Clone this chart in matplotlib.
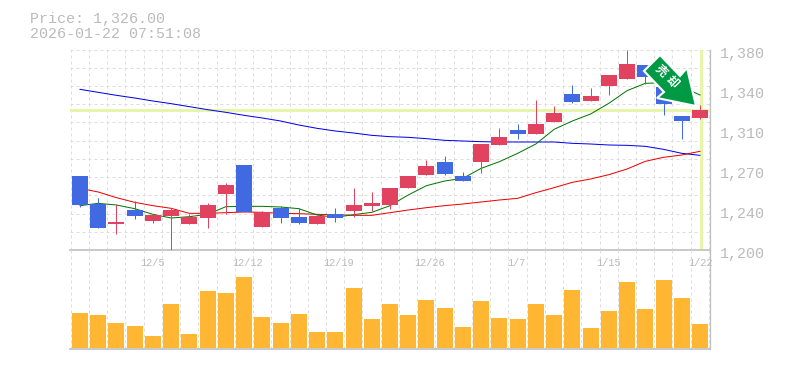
import matplotlib
matplotlib.use('Agg')
import matplotlib.pyplot as plt
from matplotlib.patches import Polygon
import numpy as np

W, H = 785, 370
PLOT_FONT = ['Liberation Mono', 'DejaVu Sans Mono']
CJK_FONT = ['Noto Sans CJK JP', 'DejaVu Sans']

opens = [1266.6, 1241.4, 1223.4, 1236.0, 1226.1, 1230.6, 1223.4, 1228.8, 1250.4, 1276.5,
         1220.7, 1237.8, 1229.7, 1223.4, 1232.4, 1235.1, 1239.6, 1240.5, 1255.8, 1267.5,
         1279.2, 1266.6, 1279.2, 1294.5, 1308.0, 1304.4, 1315.2, 1340.4, 1334.1, 1347.6,
         1353.9, 1366.5, 1347.0, 1320.6, 1318.8]
closes = [1240.5, 1219.8, 1225.2, 1230.6, 1231.5, 1236.0, 1229.7, 1240.5, 1258.5, 1234.2,
          1234.2, 1228.8, 1224.3, 1230.6, 1228.8, 1240.5, 1242.3, 1255.8, 1266.6, 1275.6,
          1268.4, 1262.1, 1295.4, 1301.7, 1304.4, 1313.4, 1323.3, 1333.2, 1338.6, 1357.5,
          1367.4, 1355.7, 1331.4, 1316.1, 1326.0]
highs = [1266.6, 1246.8, 1241.4, 1244.4, 1232.4, 1237.8, 1232.4, 1242.3, 1260.3, 1276.5,
         1235.1, 1239.6, 1237.8, 1231.5, 1237.8, 1255.8, 1252.2, 1255.8, 1266.6, 1281.0,
         1284.6, 1270.2, 1295.4, 1309.8, 1313.4, 1335.0, 1329.6, 1348.5, 1345.8, 1357.5,
         1380.0, 1366.5, 1347.0, 1320.6, 1330.5]
lows = [1239.0, 1219.8, 1214.4, 1227.9, 1224.3, 1199.4, 1223.4, 1219.8, 1232.4, 1234.2,
        1220.7, 1224.3, 1223.4, 1223.4, 1225.2, 1229.7, 1235.1, 1236.9, 1255.8, 1267.5,
        1267.5, 1262.1, 1269.3, 1294.5, 1299.9, 1304.4, 1315.2, 1332.3, 1334.1, 1339.5,
        1353.9, 1349.4, 1321.5, 1299.9, 1317.9]

ma_short = [1239.9, 1242.0, 1240.5, 1237.2, 1232.1, 1228.8, 1230.0, 1232.1, 1239.0, 1239.3,
            1239.3, 1238.7, 1237.2, 1231.5, 1229.4, 1231.8, 1233.9, 1239.9, 1249.5, 1257.9,
            1262.1, 1264.5, 1273.5, 1279.5, 1287.0, 1295.4, 1308.6, 1316.1, 1322.4, 1332.0,
            1343.4, 1350.0, 1350.6, 1347.0, 1339.5]
ma_mid = [1255.5, 1252.2, 1247.1, 1242.9, 1239.9, 1237.5, 1233.0, 1233.0, 1233.6, 1234.2,
          1233.9, 1233.0, 1232.7, 1232.1, 1231.8, 1231.2, 1231.2, 1233.6, 1236.0, 1238.1,
          1239.9, 1241.4, 1243.2, 1245.0, 1246.5, 1251.6, 1256.1, 1260.9, 1263.9, 1267.8,
          1272.9, 1279.8, 1283.4, 1285.5, 1288.8]
ma_long = [1344.6, 1341.9, 1339.2, 1336.8, 1334.1, 1331.7, 1329.0, 1326.3, 1323.9, 1321.2,
           1318.8, 1316.1, 1312.5, 1309.5, 1307.1, 1305.3, 1303.2, 1302.0, 1301.4, 1300.2,
           1298.7, 1298.1, 1297.5, 1297.2, 1297.2, 1297.2, 1297.2, 1296.0, 1295.4, 1294.5,
           1294.2, 1293.3, 1290.6, 1287.0, 1285.2]

volumes = [105, 99, 75, 66, 36, 132, 42, 171, 165, 213, 93, 75, 102, 48, 48, 180, 87, 132,
           99, 144, 120, 63, 141, 90, 87, 132, 99, 174, 60, 111, 198, 117, 204, 150, 72]

date_positions = [4.0, 9.21, 14.2, 19.19, 23.91, 29.0, 34.05]
date_labels = ['12/5', '12/12', '12/19', '12/26', '1/7', '1/15', '1/22']
price_ticks = [1200, 1236, 1272, 1308, 1344, 1380]
price_labels = ['1,200', '1,240', '1,270', '1,310', '1,340', '1,380']
last_price = 1326.0

UP = '#E04260'
DOWN = '#4169E1'
GRID = '#DDDDDD'
BORDER = '#BFBFBF'
TEXT = '#BBBBBB'
HILITE = '#E6F5AA'


def px_box(x0, y0, x1, y1):
    return [x0 / W, 1 - y1 / H, (x1 - x0) / W, (y1 - y0) / H]


fig = plt.figure(figsize=(W / 100, H / 100), dpi=100)
ax = fig.add_axes(px_box(70, 50, 710, 250))
vol = fig.add_axes(px_box(70, 250, 710, 349))

step = 18.235
xlim = ((70 - 80) / step, (710 - 80) / step)
x = np.arange(len(opens))
grid_x = (70.7 + step * np.arange(36) - 80) / step

for a in (ax, vol):
    a.set_xlim(xlim)
    a.set_xticks([])
    a.set_yticks([])
    a.patch.set_alpha(0)
    for s in a.spines.values():
        s.set_visible(False)
    for g in grid_x:
        a.axvline(g, color=GRID, lw=0.72, dashes=(3, 3), zorder=1)
    for side in ('bottom', 'right'):
        a.spines[side].set_visible(True)
        a.spines[side].set_color(BORDER)
        a.spines[side].set_linewidth(1.2 if side == 'bottom' else 0.9)

ax.set_ylim(1200, 1380)
for k in range(12):
    ax.axhline(1200 + k * 16.4, color=GRID, lw=0.72, dashes=(3, 3), zorder=1)

ax.axhline(last_price, color=HILITE, lw=2.2, zorder=2)
ax.axvline(x[-1] + 0.03, color=HILITE, lw=2.2, zorder=2, ymax=0.995)

ax.plot(x, ma_long, color='#0000EE', lw=0.72, zorder=3)
ax.plot(x, ma_mid, color='#EE0000', lw=0.72, zorder=3)
ax.plot(x, ma_short, color='#007700', lw=0.72, zorder=3)

for i in x:
    col = UP if closes[i] >= opens[i] else DOWN
    ax.vlines(i, lows[i], highs[i], color=col, lw=0.72, zorder=4)
    ax.bar(i, abs(closes[i] - opens[i]), bottom=min(opens[i], closes[i]), width=16 / step,
           color=col, zorder=5, linewidth=0)

vol.set_ylim(-3, 294)
vol.bar(x, volumes, width=16 / step, color='#FFB733', zorder=3, linewidth=0)

for p, lab in zip(date_positions, date_labels):
    vol.text(p, 294 - 39, lab, ha='center', va='center', color=TEXT, fontsize=7.4,
             family=PLOT_FONT, zorder=6, clip_on=False)
for p, lab in zip(price_ticks, price_labels):
    fig.text(720 / W, 1 - (250 - (p - 1200) / 0.9 + 4) / H, lab, ha='left', va='center',
             color=TEXT, fontsize=10.8, family=PLOT_FONT)

fig.text(30 / W, 1 - 18.5 / H, 'Price: 1,326.00', va='center', color=TEXT, fontsize=10.8, family=PLOT_FONT)
fig.text(30 / W, 1 - 33.5 / H, '2026-01-22 07:51:08', va='center', color=TEXT, fontsize=10.8, family=PLOT_FONT)

# badge arrow, pixel positions measured on the picture
arrow_px = [(660, 55), (644, 71), (664, 92), (657, 98), (696, 106), (687, 68), (680, 76)]
arrow = Polygon([(px / W, 1 - py / H) for px, py in arrow_px], closed=True, transform=fig.transFigure,
                facecolor='#009944', edgecolor='white', lw=1.5, zorder=10)
fig.add_artist(arrow)
for gx, gy, glyph in [(661, 71, '売'), (672, 82, '却')]:
    fig.text(gx / W, 1 - gy / H, glyph, rotation=-45, rotation_mode='anchor', ha='center', va='center',
             color='white', fontsize=8.5, weight='bold', family=CJK_FONT, zorder=11)

fig.savefig('out.png', dpi=100)
